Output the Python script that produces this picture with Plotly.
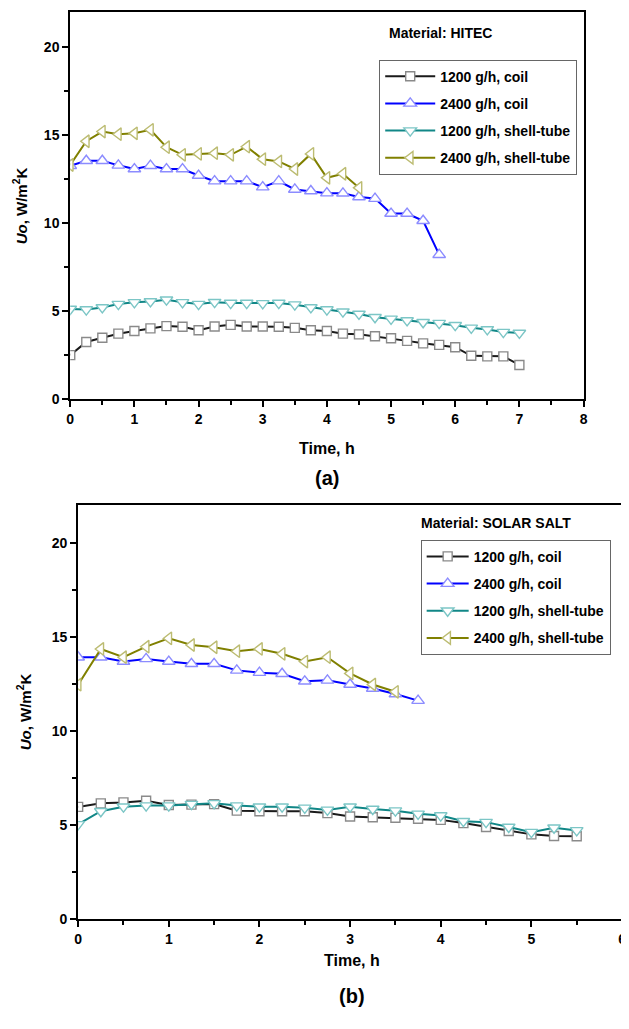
import plotly.graph_objects as go

# ---------------- (a) Material: HITEC ----------------
t_a_1200_coil = [0, 0.25, 0.5, 0.75, 1.0, 1.25, 1.5, 1.75, 2.0, 2.25, 2.5, 2.75, 3.0, 3.25, 3.5, 3.75,
                 4.0, 4.25, 4.5, 4.75, 5.0, 5.25, 5.5, 5.75, 6.0, 6.25, 6.5, 6.75, 7.0]
u_a_1200_coil = [2.49, 3.24, 3.48, 3.71, 3.86, 4.01, 4.14, 4.10, 3.90, 4.12, 4.21, 4.12, 4.12, 4.10, 4.04, 3.90,
                 3.86, 3.71, 3.67, 3.56, 3.45, 3.30, 3.16, 3.07, 2.94, 2.45, 2.42, 2.42, 1.93]

t_a_2400_coil = [0, 0.25, 0.5, 0.75, 1.0, 1.25, 1.5, 1.75, 2.0, 2.25, 2.5, 2.75, 3.0, 3.25, 3.5, 3.75,
                 4.0, 4.25, 4.5, 4.75, 5.0, 5.25, 5.5, 5.75]
u_a_2400_coil = [13.26, 13.54, 13.54, 13.28, 13.07, 13.26, 13.07, 13.07, 12.70, 12.38, 12.38, 12.38, 12.04, 12.38,
                 11.91, 11.82, 11.70, 11.69, 11.48, 11.39, 10.54, 10.54, 10.13, 8.20]

t_a_1200_shell = [0, 0.25, 0.5, 0.75, 1.0, 1.25, 1.5, 1.75, 2.0, 2.25, 2.5, 2.75, 3.0, 3.25, 3.5, 3.75,
                  4.0, 4.25, 4.5, 4.75, 5.0, 5.25, 5.5, 5.75, 6.0, 6.25, 6.5, 6.75, 7.0]
u_a_1200_shell = [5.11, 5.08, 5.20, 5.39, 5.49, 5.54, 5.64, 5.49, 5.39, 5.50, 5.45, 5.45, 5.43, 5.45, 5.36, 5.20,
                  5.08, 4.96, 4.83, 4.64, 4.55, 4.46, 4.36, 4.31, 4.19, 4.04, 3.95, 3.80, 3.75]

t_a_2400_shell = [0, 0.25, 0.5, 0.75, 1.0, 1.25, 1.5, 1.75, 2.0, 2.25, 2.5, 2.75, 3.0, 3.25, 3.5, 3.75,
                  4.0, 4.25, 4.5]
u_a_2400_shell = [13.30, 14.65, 15.20, 15.05, 15.10, 15.30, 14.31, 13.88, 13.93, 13.97, 13.88, 14.34, 13.63, 13.50,
                  13.07, 13.93, 12.57, 12.80, 12.00]

# ---------------- (b) Material: SOLAR SALT ----------------
t_b_1200_coil = [0, 0.25, 0.5, 0.75, 1.0, 1.25, 1.5, 1.75, 2.0, 2.25, 2.5, 2.75, 3.0, 3.25, 3.5, 3.75,
                 4.0, 4.25, 4.5, 4.75, 5.0, 5.25, 5.5]
u_b_1200_coil = [5.95, 6.14, 6.19, 6.28, 6.05, 6.07, 6.10, 5.75, 5.72, 5.72, 5.72, 5.62, 5.44, 5.40, 5.37, 5.32,
                 5.26, 5.09, 4.88, 4.67, 4.49, 4.40, 4.39]

t_b_2400_coil = [0, 0.25, 0.5, 0.75, 1.0, 1.25, 1.5, 1.75, 2.0, 2.25, 2.5, 2.75, 3.0, 3.25, 3.5, 3.75]
u_b_2400_coil = [13.91, 13.91, 13.68, 13.82, 13.68, 13.56, 13.56, 13.21, 13.09, 13.03, 12.63, 12.68, 12.46, 12.25,
                 11.95, 11.60]

t_b_1200_shell = [0, 0.25, 0.5, 0.75, 1.0, 1.25, 1.5, 1.75, 2.0, 2.25, 2.5, 2.75, 3.0, 3.25, 3.5, 3.75,
                  4.0, 4.25, 4.5, 4.75, 5.0, 5.25, 5.5]
u_b_1200_shell = [5.02, 5.72, 5.96, 6.02, 6.02, 6.10, 6.14, 6.02, 5.96, 5.96, 5.90, 5.79, 5.96, 5.84, 5.75, 5.58,
                  5.49, 5.19, 5.14, 4.88, 4.61, 4.84, 4.70]

t_b_2400_shell = [0, 0.25, 0.5, 0.75, 1.0, 1.25, 1.5, 1.75, 2.0, 2.25, 2.5, 2.75, 3.0, 3.25, 3.5]
u_b_2400_shell = [12.45, 14.35, 13.91, 14.47, 14.91, 14.56, 14.44, 14.23, 14.35, 14.09, 13.68, 13.91, 13.05, 12.46,
                  12.07]

series_names = ["1200 g/h, coil", "2400 g/h, coil", "1200 g/h, shell-tube", "2400 g/h, shell-tube"]
line_colors = ["#1a1a1a", "#0000ff", "#118787", "#808000"]
marker_edges = ["#8a8a8a", "#8c8cff", "#7cc6c6", "#bcbc72"]
symbols = ["square", "triangle-up", "triangle-down", "triangle-left"]
sizes = [9, 11, 11, 11]

FONT = "Liberation Sans, Arial, sans-serif"

# The page body has an 8 px margin: the figure is placed at (8, 8) in the window.
OFF = 8
W, H = 629 - OFF, 1029 - OFF


def px_x(p):
    return (p - OFF) / W


def px_y(p):
    return 1 - (p - OFF) / H


fig = go.Figure()

data_a = [(t_a_1200_coil, u_a_1200_coil), (t_a_2400_coil, u_a_2400_coil),
          (t_a_1200_shell, u_a_1200_shell), (t_a_2400_shell, u_a_2400_shell)]
data_b = [(t_b_1200_coil, u_b_1200_coil), (t_b_2400_coil, u_b_2400_coil),
          (t_b_1200_shell, u_b_1200_shell), (t_b_2400_shell, u_b_2400_shell)]

for panel, data, xa, ya, lg in [("a", data_a, "x", "y", "legend"), ("b", data_b, "x2", "y2", "legend2")]:
    for i, (tx, uy) in enumerate(data):
        fig.add_trace(go.Scatter(
            x=tx, y=uy, mode="lines+markers", name=series_names[i],
            line=dict(color=line_colors[i], width=2),
            marker=dict(symbol=symbols[i], size=sizes[i], color="white",
                        line=dict(color=marker_edges[i], width=1.4)),
            xaxis=xa, yaxis=ya, legend=lg, legendgroup="%s%d" % (panel, i)))

tickfont = dict(family=FONT, size=14, color="black", weight="bold")
axis_common = dict(showline=True, linecolor="black", linewidth=2, mirror=True,
                   ticks="outside", ticklen=6, tickwidth=2, tickcolor="black",
                   showgrid=False, zeroline=False, tickfont=tickfont)
minor_x = dict(dtick=0.5, ticks="outside", ticklen=4, tickwidth=2, tickcolor="black")
minor_y = dict(dtick=2.5, ticks="outside", ticklen=4, tickwidth=2, tickcolor="black")
legend_font = dict(family=FONT, size=14, color="black", weight="bold")

fig.update_layout(
    width=W, height=H,
    margin=dict(l=0, r=0, t=0, b=0),
    paper_bgcolor="white", plot_bgcolor="white",
    font=dict(family=FONT, color="black"),
    xaxis=dict(domain=[px_x(67), px_x(587)], range=[0, 8], dtick=1, anchor="y", minor=minor_x, **axis_common),
    yaxis=dict(domain=[px_y(402), px_y(12)], range=[0, 22], dtick=5, anchor="x", minor=minor_y, **axis_common),
    xaxis2=dict(domain=[px_x(75), px_x(626)], range=[0, 6], dtick=1, anchor="y2", minor=minor_x, **axis_common),
    yaxis2=dict(domain=[px_y(926), px_y(509)], range=[0, 22], dtick=5, anchor="x2", minor=minor_y, **axis_common),
    legend=dict(x=px_x(380), y=px_y(60), xanchor="left", yanchor="top",
                bordercolor="#666666", borderwidth=1, bgcolor="white",
                font=legend_font, tracegroupgap=6, traceorder="grouped", itemwidth=50),
    legend2=dict(x=px_x(422), y=px_y(544), xanchor="left", yanchor="top",
                 bordercolor="#666666", borderwidth=1, bgcolor="white",
                 font=legend_font, tracegroupgap=6, traceorder="grouped", itemwidth=42),
)

ann_font = dict(family=FONT, color="black", weight="bold")
annotations = [
    dict(text="Material: HITEC", x=px_x(388), y=px_y(33), xanchor="left", yanchor="middle",
         font=dict(size=14, **ann_font)),
    dict(text="Material: SOLAR SALT", x=px_x(420), y=px_y(527), xanchor="left", yanchor="middle",
         font=dict(size=14, **ann_font)),
    dict(text="Time, h", x=px_x(327), y=px_y(452), xanchor="center", yanchor="middle",
         font=dict(size=16, **ann_font)),
    dict(text="(a)", x=px_x(327), y=px_y(482), xanchor="center", yanchor="middle",
         font=dict(size=20, **ann_font)),
    dict(text="Time, h", x=px_x(352), y=px_y(968), xanchor="center", yanchor="middle",
         font=dict(size=16, **ann_font)),
    dict(text="(b)", x=px_x(352), y=px_y(1004), xanchor="center", yanchor="middle",
         font=dict(size=20, **ann_font)),
    dict(text="<i>Uo</i>, W/m<sup>2</sup>K", x=px_x(16), y=px_y(207), xanchor="center", yanchor="middle",
         textangle=-90, font=dict(size=15, **ann_font)),
    dict(text="<i>Uo</i>, W/m<sup>2</sup>K", x=px_x(20), y=px_y(717), xanchor="center", yanchor="middle",
         textangle=-90, font=dict(size=15, **ann_font)),
]
for a in annotations:
    a.update(xref="paper", yref="paper", showarrow=False)
fig.update_layout(annotations=annotations)

fig.write_html("out.html")
